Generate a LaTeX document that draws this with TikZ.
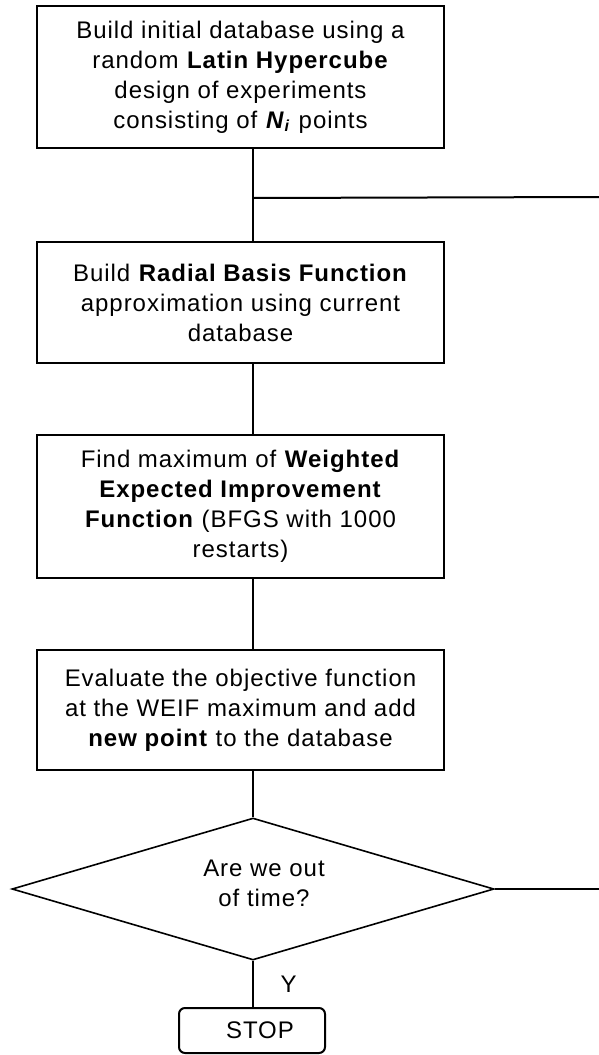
\documentclass[tikz,border=0pt]{standalone}
\usepackage{fontspec}
\setmainfont{Liberation Sans}[LetterSpace=4]
\usetikzlibrary{shapes.geometric}

\begin{document}
\begin{tikzpicture}[
        x=0.5pt, y=-0.5pt,
        block/.style={
            rectangle,
            draw,
            line width=1pt,
            align=center,
            minimum width=203.5pt,
            font=\fontsize{12}{15}\selectfont,
            inner sep=0pt
        },
        decision/.style={
            diamond,
            draw,
            line width=0.8pt,
            align=center,
            aspect=3.4,
            minimum width=241pt,
            minimum height=71pt,
            font=\fontsize{12}{15}\selectfont,
            inner sep=0pt
        },
        stopbox/.style={
            rectangle,
            draw,
            line width=1pt,
            rounded corners=3pt,
            minimum width=73pt,
            minimum height=22.5pt,
            font=\fontsize{12}{15}\selectfont,
            inner sep=0pt
        },
        link/.style={line width=1pt}
    ]

        \useasboundingbox (0,0) rectangle (599,1055);

        \coordinate (spine) at (253,0);

        \node[block, minimum height=71pt] (init) at (240.5,77) {Build initial database using a\\random \textbf{Latin Hypercube}\\design of experiments\\consisting of \textbf{\textit{N}}\textsubscript{\textbf{\textit{i}}} points};
        \node[block, minimum height=60.5pt] (rbf) at (240.5,302.5) {Build \textbf{Radial Basis Function}\\approximation using current\\database};
        \node[block, minimum height=71.5pt] (weif) at (240.5,506.5) {Find maximum of \textbf{Weighted}\\\textbf{Expected Improvement}\\\textbf{Function} (BFGS with 1000\\restarts)};
        \node[block, minimum height=60pt] (eval) at (240.5,710) {Evaluate the objective function\\at the WEIF maximum and add\\\textbf{new point} to the database};
        \node[decision] (time) at (253,889) {\raisebox{5.5pt}{\hspace{11pt}Are we out}\\\raisebox{5.5pt}{\hspace{11pt}of time?}};
        \node[stopbox] (stop) at (252,1030.5) {\hspace{8pt}STOP};

        \coordinate (loopin) at (599,197);
        \coordinate (loopout) at (599,889);

        \draw[link] (init.south -| spine) -- (rbf.north -| spine);
        \draw[link] (init.south -| spine) ++(0,49) -- (loopin);
        \draw[link] (rbf.south -| spine) -- (weif.north -| spine);
        \draw[link] (weif.south -| spine) -- (eval.north -| spine);
        \draw[link] (eval.south -| spine) -- (time.north);
        \draw[link] (time.east) -- (loopout);
        \draw[link] (time.south) -- node[right, xshift=10pt, font=\fontsize{12}{15}\selectfont] {Y} (stop.north -| time.south);

    \end{tikzpicture}
\end{document}
